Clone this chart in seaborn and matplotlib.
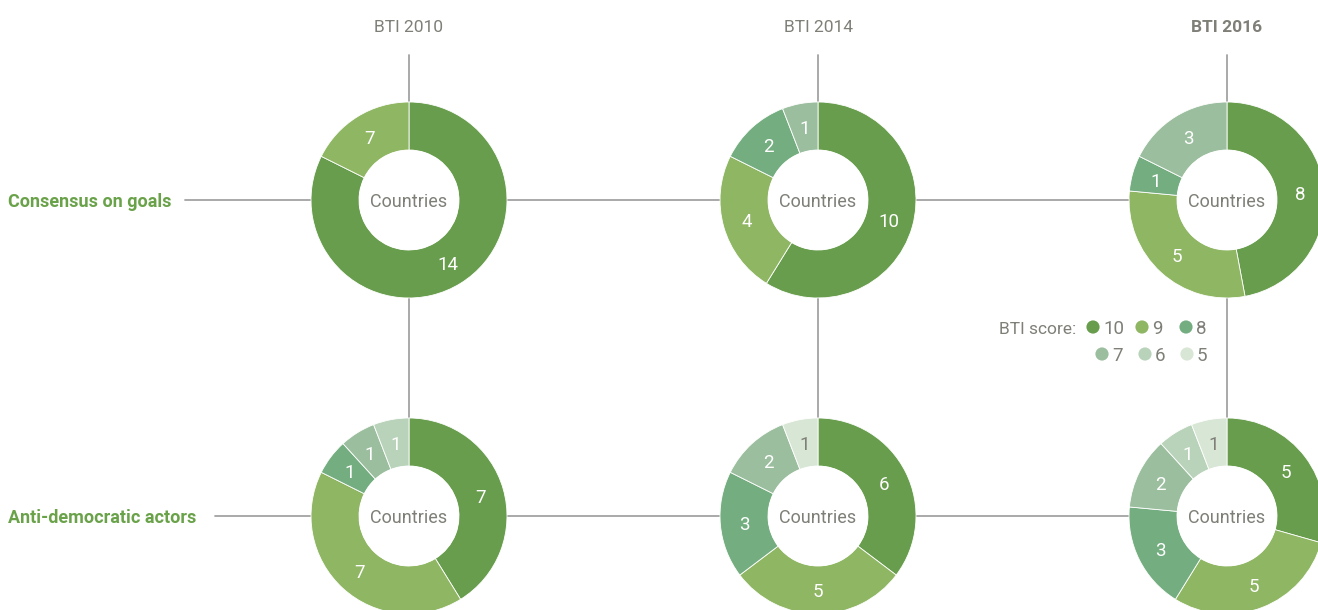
import numpy as np
import pandas as pd
import seaborn as sns
import matplotlib.pyplot as plt
from matplotlib import font_manager
from matplotlib.patches import Circle

# BTI donuts: number of countries per BTI score
years = ["BTI 2010", "BTI 2014", "BTI 2016"]
rows = ["Consensus on goals", "Anti-democratic actors"]
scores = [10, 9, 8, 7, 6, 5]

consensus_2010 = [14, 3, 0, 0, 0, 0]   # arc drawn as 3 in the original, labelled "7"
consensus_2014 = [10, 4, 2, 1, 0, 0]
consensus_2016 = [8, 5, 1, 3, 0, 0]
anti_2010 = [7, 7, 1, 1, 1, 0]
anti_2014 = [6, 5, 3, 2, 0, 1]
anti_2016 = [5, 5, 3, 2, 1, 1]
label_override = {("Consensus on goals", "BTI 2010", 9): "7"}

score_colors = ["#679d4c", "#8fb663", "#74ae80", "#9bbe9e", "#b9d3ba", "#d8e6d5"]

sns.set_theme(style="white")
names = {f.name for f in font_manager.fontManager.ttflist}
fam = "Liberation Sans Narrow" if "Liberation Sans Narrow" in names else "Roboto"
plt.rcParams["font.family"] = [fam, "DejaVu Sans"]

W, H = 1318, 610
fig = plt.figure(figsize=(W / 100, H / 100), dpi=100)
ax = fig.add_axes([0, 0, 1, 1])
ax.set_xlim(0, W)
ax.set_ylim(0, H)
ax.axis("off")

grey = "#7f7f78"
line_c = "#a3a3a3"
green = "#6aa24a"

col_x = [409, 818, 1227]
row_y = [H - 200, H - 516]
r_out, r_in = 98, 50
dy = -2  # small baseline nudge for text

data = {
    ("Consensus on goals", "BTI 2010"): consensus_2010,
    ("Consensus on goals", "BTI 2014"): consensus_2014,
    ("Consensus on goals", "BTI 2016"): consensus_2016,
    ("Anti-democratic actors", "BTI 2010"): anti_2010,
    ("Anti-democratic actors", "BTI 2014"): anti_2014,
    ("Anti-democratic actors", "BTI 2016"): anti_2016,
}

# grid lines behind the donuts
ax.plot([185, 1160], [row_y[0]] * 2, color=line_c, lw=1.3, zorder=0)
ax.plot([215, 1160], [row_y[1]] * 2, color=line_c, lw=1.3, zorder=0)
for x in col_x:
    ax.plot([x, x], [H - 55, row_y[1]], color=line_c, lw=1.3, zorder=0)

for j, yr in enumerate(years):
    ax.text(col_x[j], H - 26 + dy, yr, ha="center", va="center", fontsize=12.5, color=grey,
            fontweight="bold" if yr == "BTI 2016" else "normal")

ax.text(8, row_y[0] + dy, rows[0], ha="left", va="center", fontsize=13, color=green, fontweight="bold")
ax.text(8, row_y[1] + dy, rows[1], ha="left", va="center", fontsize=13, color=green, fontweight="bold")

for i, rname in enumerate(rows):
    for j, yr in enumerate(years):
        vals = np.array(data[(rname, yr)], dtype=float)
        keep = vals > 0
        v = vals[keep]
        cols = [c for c, k in zip(score_colors, keep) if k]
        scs = [s for s, k in zip(scores, keep) if k]
        cx, cy = col_x[j], row_y[i]
        wedges, _ = ax.pie(v, colors=cols, startangle=90, counterclock=False,
                           center=(cx, cy), radius=r_out, frame=True,
                           wedgeprops=dict(width=r_out - r_in, edgecolor="white", linewidth=0.6))
        ax.add_patch(Circle((cx, cy), r_in, facecolor="white", edgecolor="none", zorder=1))
        for w, val, s in zip(wedges, v, scs):
            ang = np.deg2rad((w.theta1 + w.theta2) / 2)
            rr = (r_out + r_in) / 2
            txt = label_override.get((rname, yr, s), str(int(val)))
            ax.text(cx + rr * np.cos(ang), cy + rr * np.sin(ang) + dy, txt, ha="center", va="center",
                    fontsize=13.5, color=grey if s == 5 else "white", zorder=3)
        ax.text(cx, cy + dy, "Countries", ha="center", va="center", fontsize=13, color=grey, zorder=3)

# legend
leg = pd.DataFrame({
    "score": scores,
    "x": [1093, 1142, 1186, 1102, 1145, 1187],
    "y": [H - 327, H - 327, H - 327, H - 354, H - 354, H - 354],
})
sns.scatterplot(data=leg, x="x", y="y", hue="score", palette=dict(zip(scores, score_colors)),
                s=90, linewidth=0, legend=False, ax=ax, zorder=5)
ax.text(1076, H - 327 + dy, "BTI score:", ha="right", va="center", fontsize=12.5, color=grey)
for _, r in leg.iterrows():
    ax.text(r["x"] + 10, r["y"] + dy, str(r["score"]), ha="left", va="center", fontsize=13.5, color=grey)

ax.set_xlim(0, W)
ax.set_ylim(0, H)
ax.set_aspect("auto")
ax.axis("off")
fig.savefig("out.png", dpi=100)
